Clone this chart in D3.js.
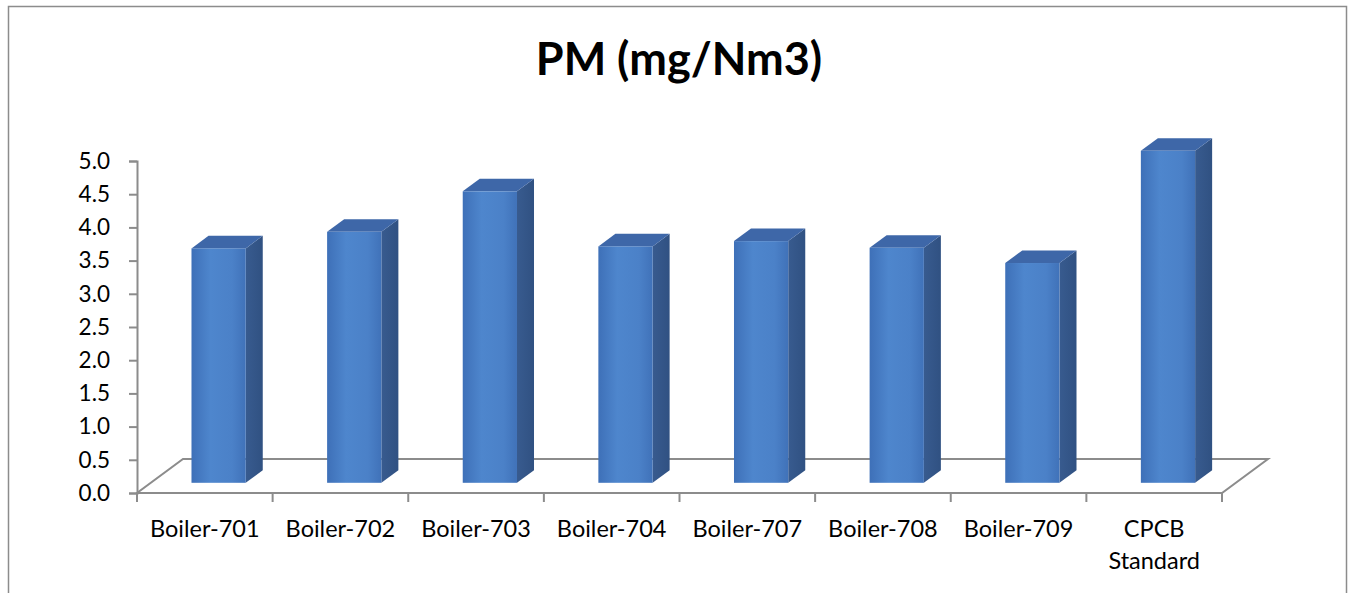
<!DOCTYPE html>
<html>
<head>
<meta charset="utf-8">
<script src="https://cdn.jsdelivr.net/npm/d3@7"></script>
<style>
  body { margin: 0; background: #fff; }
  text { font-family: Lato, "Open Sans", sans-serif; fill: #000; }
</style>
</head>
<body>
<div id="chart"></div>
<script>
// Chart data
const categories = ["Boiler-701", "Boiler-702", "Boiler-703", "Boiler-704", "Boiler-707", "Boiler-708", "Boiler-709", "CPCB Standard"];
const pmValues = [3.53, 3.78, 4.39, 3.56, 3.64, 3.54, 3.31, 5.0];
const yTicks = [0, 0.5, 1, 1.5, 2, 2.5, 3, 3.5, 4, 4.5, 5];
const chartTitle = "PM (mg/Nm3)";

const width = 1358, height = 593;

const svg = d3.select("#chart")
    .append("svg")
    .attr("width", width)
    .attr("height", height);

// outer chart border
svg.append("rect")
    .attr("x", 8.5).attr("y", 6.5)
    .attr("width", 1338).attr("height", 600)
    .attr("fill", "none")
    .attr("stroke", "#8c8c8c")
    .attr("stroke-width", 1.5);

// title
svg.append("text")
    .text(chartTitle)
    .attr("x", 679)
    .attr("y", 75)
    .attr("text-anchor", "middle")
    .attr("font-size", 45)
    .attr("font-weight", "bold");

/**********/
/* Scales */
/**********/
const xScale = d3.scaleBand()
    .domain(categories)
    .range([137, 1222])
    .padding(0);

const yScale = d3.scaleLinear()
    .domain([0, 5])
    .range([493, 161]);

// depth of the 3D floor (back edge offset)
const depthX = 46, depthY = -34;
const frontDepth = 0.30, backDepth = 0.67;
const barWidthRatio = 0.40;

// gradients
const defs = svg.append("defs");
const frontGrad = defs.append("linearGradient").attr("id", "frontGrad");
frontGrad.append("stop").attr("offset", "0%").attr("stop-color", "#3e70b8");
frontGrad.append("stop").attr("offset", "35%").attr("stop-color", "#4e86cd");
frontGrad.append("stop").attr("offset", "75%").attr("stop-color", "#4b81c8");
frontGrad.append("stop").attr("offset", "100%").attr("stop-color", "#4072b9");
const sideGrad = defs.append("linearGradient").attr("id", "sideGrad");
sideGrad.append("stop").attr("offset", "0%").attr("stop-color", "#385b8f");
sideGrad.append("stop").attr("offset", "100%").attr("stop-color", "#305182");

/*********/
/* Floor */
/*********/
const x0 = xScale.range()[0], x1 = xScale.range()[1], y0 = yScale(0);
svg.append("path")
    .attr("d", `M${x0},${y0} L${x1},${y0} L${x1 + depthX},${y0 + depthY} L${x0 + depthX},${y0 + depthY} Z`)
    .attr("fill", "none")
    .attr("stroke", "#8c8c8c")
    .attr("stroke-width", 2);

/********/
/* Bars */
/********/
const bars = svg.selectAll("g.bar")
    .data(categories.map((c, i) => ({ cat: c, value: pmValues[i] })))
    .join("g")
    .attr("class", "bar");

const geom = d => {
    const bw = xScale.bandwidth() * barWidthRatio;
    const cx = xScale(d.cat) + xScale.bandwidth() / 2;
    const fx = cx - bw / 2 + depthX * frontDepth;
    const fy = depthY * frontDepth;
    const bx = depthX * (backDepth - frontDepth);
    const by = depthY * (backDepth - frontDepth);
    const bottom = yScale(0) + fy;
    const top = yScale(d.value) + fy;
    return { fx, bw, bottom, top, bx, by };
};

// side face
bars.append("path")
    .attr("d", d => {
        const g = geom(d);
        const r = g.fx + g.bw;
        return `M${r},${g.bottom} L${r + g.bx},${g.bottom + g.by} L${r + g.bx},${g.top + g.by} L${r},${g.top} Z`;
    })
    .attr("fill", "url(#sideGrad)");

// top face
bars.append("path")
    .attr("d", d => {
        const g = geom(d);
        return `M${g.fx},${g.top} L${g.fx + g.bw},${g.top} L${g.fx + g.bw + g.bx},${g.top + g.by} L${g.fx + g.bx},${g.top + g.by} Z`;
    })
    .attr("fill", "#3e67a8");

// front face
bars.append("rect")
    .attr("x", d => geom(d).fx)
    .attr("y", d => geom(d).top)
    .attr("width", d => geom(d).bw)
    .attr("height", d => geom(d).bottom - geom(d).top)
    .attr("fill", "url(#frontGrad)");

/********/
/* Axes */
/********/
const leftAxis = d3.axisLeft(yScale)
    .tickValues(yTicks)
    .tickFormat(d3.format(".1f"))
    .tickSize(8)
    .tickPadding(19);

const yAxisG = svg.append("g")
    .attr("transform", `translate(${x0},0)`)
    .call(leftAxis);
yAxisG.select(".domain").attr("stroke", "#8c8c8c").attr("stroke-width", 2);
yAxisG.selectAll(".tick line").attr("stroke", "#8c8c8c").attr("stroke-width", 2);
yAxisG.selectAll(".tick text")
    .attr("font-size", 22.5)
    .attr("font-family", "Lato, sans-serif")
    .attr("fill", "#000");

// x ticks at category boundaries
const boundaries = categories.map(c => xScale(c)).concat([x1]);
svg.selectAll("line.xtick")
    .data(boundaries)
    .join("line")
    .attr("class", "xtick")
    .attr("x1", d => d).attr("x2", d => d)
    .attr("y1", y0).attr("y2", y0 + 9)
    .attr("stroke", "#8c8c8c")
    .attr("stroke-width", 2);

// category labels (wrap "CPCB Standard")
const labels = svg.selectAll("text.xlabel")
    .data(categories)
    .join("text")
    .attr("class", "xlabel")
    .attr("x", d => xScale(d) + xScale.bandwidth() / 2)
    .attr("y", 537)
    .attr("text-anchor", "middle")
    .attr("font-size", 23.5);

labels.each(function (d) {
    const words = d.startsWith("CPCB") ? d.split(" ") : [d];
    const t = d3.select(this);
    words.forEach((w, i) => {
        t.append("tspan")
            .attr("x", xScale(d) + xScale.bandwidth() / 2)
            .attr("dy", i === 0 ? 0 : 32)
            .text(w);
    });
});
</script>
</body>
</html>
